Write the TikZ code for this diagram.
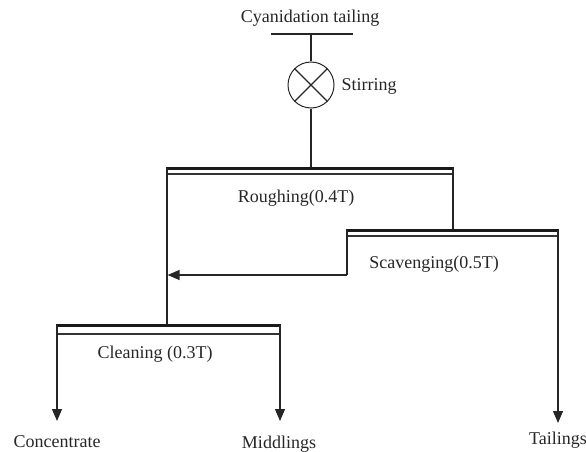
\documentclass[tikz,border=0pt]{standalone}
\usepackage{fontspec}
\setmainfont{Liberation Serif}
\usetikzlibrary{arrows.meta}
\begin{document}
\begin{tikzpicture}[x=1pt,y=-1pt,
  lbl/.style={inner sep=0pt,text=black!85,font=\fontsize{18}{21}\selectfont},
  ln/.style={draw=black!85,line width=1.3pt},
  thick bar/.style={draw=black!90,line width=3pt},
  thin bar/.style={draw=black!80,line width=1.2pt},
  arr/.style={ln,-{Triangle[length=12pt,width=10pt]}}]
\useasboundingbox (0,0) rectangle (586,452);
% texts
\node[lbl] (feed) at (310,18) {Cyanidation tailing};
\node[lbl] (stirt) at (369,86) {Stirring};
\node[lbl] (rough) at (296,198) {Roughing(0.4T)};
\node[lbl] (scav) at (434,264) {Scavenging(0.5T)};
\node[lbl] (clean) at (155,354) {Cleaning (0.3T)};
\node[lbl] (conc) at (57,442) {Concentrate};
\node[lbl] (midd) at (279,444) {Middlings};
\node[lbl] (tail) at (558,440) {Tailings};
% stirring tank
\node[draw=black!85,line width=1pt,circle,minimum size=46pt,inner sep=0pt] (stir) at (311,85) {};
\draw[ln] (stir.45) -- (stir.225);
\draw[ln] (stir.135) -- (stir.315);
% feed line
\coordinate (fl) at (271,34);
\coordinate (fr) at (353,34);
\coordinate (fm) at (311,34);
\draw[ln] (fl) -- (fr);
\draw[ln] (fm) -- (stir.north);
% roughing bar
\coordinate (r1) at (167,168); \coordinate (r2) at (453,168);
\coordinate (r3) at (167,174); \coordinate (r4) at (453,174);
\coordinate (rm) at (311,168);
\draw[ln] (stir.south) -- (rm);
\draw[thin bar] (r3) -- (r4);
\draw[thick bar] ([xshift=-0.8pt]r1) -- ([xshift=0.8pt]r2);
% scavenging bar
\coordinate (s1) at (347,230); \coordinate (s2) at (558,230);
\coordinate (s3) at (347,236); \coordinate (s4) at (558,236);
\coordinate (sj) at (453,230);
\coordinate (sl) at (347,275);
\coordinate (rj) at (167,275);
\draw[ln] (r2) -- (sj);
\draw[thin bar] (s3) -- (s4);
\draw[thick bar] ([xshift=-0.8pt]s1) -- ([xshift=0.8pt]s2);
% cleaning bar
\coordinate (c1) at (57,325); \coordinate (c2) at (280,325);
\coordinate (c3) at (57,334); \coordinate (c4) at (280,334);
\coordinate (cj) at (167,325);
\draw[ln] (r1) -- (cj);
\draw[thin bar] (c3) -- (c4);
\draw[thick bar] ([xshift=-0.8pt]c1) -- ([xshift=0.8pt]c2);
% scavenging concentrate back
\draw[ln] (s1) -- (sl);
\draw[arr] (sl) -- ([xshift=0.6pt]rj);
% product arrows
\coordinate (ca) at (57,421);
\coordinate (ma) at (280,421);
\coordinate (ta) at (558,423);
\draw[arr] (c1) -- (ca);
\draw[arr] (c2) -- (ma);
\draw[arr] (s2) -- (ta);
\end{tikzpicture}
\end{document}
